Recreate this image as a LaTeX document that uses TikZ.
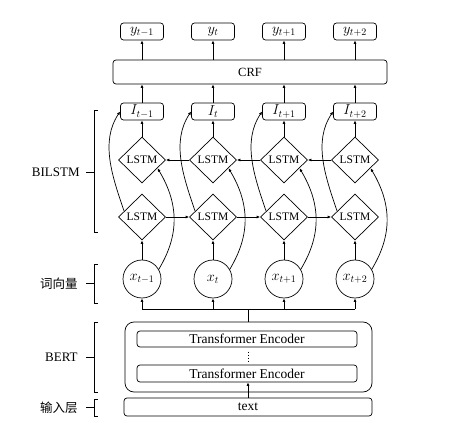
\documentclass[tikz,border=0pt]{standalone}
\usepackage{fontspec}
\setmainfont{Liberation Serif}
\newfontfamily\cjk{Noto Sans CJK SC}
\usetikzlibrary{shapes.geometric,arrows.meta,calc}
\begin{document}
\begin{tikzpicture}[x=1pt,y=-1pt, line width=0.7pt,
 >={Latex[length=3.5pt,width=3pt]},
 rbox/.style={draw, rounded corners=3pt, minimum width=43pt, minimum height=17pt, inner sep=0pt, font=\fontsize{14.4}{15}\selectfont},
 lstm/.style={draw, diamond, minimum width=47pt, minimum height=46pt, inner sep=0pt, font=\fontsize{11.5}{12}\selectfont},
 xc/.style={draw, circle, minimum size=38pt, inner sep=0pt, font=\fontsize{14.4}{15}\selectfont},
 wide/.style={draw, inner sep=0pt, font=\fontsize{13.5}{14}\selectfont},
 lbl/.style={anchor=east, inner sep=0pt, font=\fontsize{13}{13}\selectfont},
 brk/.style={line width=0.7pt}
]
\useasboundingbox (0,0) rectangle (449,443);

\foreach \i/\x/\s in {1/142/{t-1},2/213/t,3/284/{t+1},4/355/{t+2}}{
  \node[rbox] (y\i) at (\x,31.5) {$y_{\s}$};
  \node[rbox] (i\i) at (\x,111.5) {$I_{\s}$};
  \node[lstm] (t\i) at (\x,160) {LSTM};
  \node[lstm] (b\i) at (\x,217) {LSTM};
  \node[xc] (x\i) at (\x,279) {$x_{\s}$};
}

\node[draw, rounded corners=3pt, minimum width=274pt, minimum height=24pt, inner sep=0pt, font=\fontsize{12.5}{13}\selectfont] (crf) at (250,72) {CRF};

\node[draw, rounded corners=9pt, minimum width=247pt, minimum height=70pt] (bert) at (248.5,357) {};
\node[wide, rounded corners=3pt, minimum width=220pt, minimum height=16pt] (te1) at (247,339) {Transformer Encoder};
\node[wide, rounded corners=3pt, minimum width=220pt, minimum height=17pt] (te2) at (247,373.5) {Transformer Encoder};
\coordinate (d1) at (248,351.5);
\coordinate (d2) at (248,361);
\draw[line width=0.6pt, dash pattern=on 0.6pt off 2.4pt] (d1) -- (d2);
\node[wide, rounded corners=3pt, minimum width=248pt, minimum height=18pt] (txt) at (248,407) {text};

% arrows vertical
\draw[->] (txt.north) -- (te2.south -| txt.north);
\coordinate (bus) at (248.5,309);
\draw (bert.north) -- (bus);
\draw (x1.south |- bus) -- (x4.south |- bus);
\foreach \i in {1,...,4}{
  \draw[->] (x\i.south |- bus) -- (x\i.south);
  \draw[->] (x\i.north) -- (b\i.south);
  \draw[->] (t\i.north) -- (i\i.south);
  \draw[->] (i\i.north) -- (crf.south -| i\i.north);
  \draw[->] (crf.north -| y\i.south) -- (y\i.south);
  \draw[->] ($(b\i.west)!0.25!(b\i.north)$) .. controls +(-12,-35) and +(-20,30) .. (i\i.west);
  \draw[->] (x\i.30) .. controls +(18,-30) and +(24,40) .. ($(t\i.east)!0.35!(t\i.south)$);
}
\foreach \a/\b in {1/2,2/3,3/4}{
  \draw[->] (b\a.east) -- (b\b.west);
  \draw[->] (t\b.west) -- (t\a.east);
}

% brackets
\draw[brk] (98,110) -- (94,110) -- (94,232) -- (98,232) (94,172) -- (86,172);
\node[lbl] (lb1) at (80,172) {BILSTM};
\draw[brk] (98,264) -- (94,264) -- (94,303) -- (98,303) (94,283.5) -- (86,283.5);
\node[lbl, font=\cjk\fontsize{12.5}{13}\selectfont] (lb2) at (78,283.5) {词向量};
\draw[brk] (98,322) -- (94,322) -- (94,392) -- (98,392) (94,357) -- (86,357);
\node[lbl] (lb3) at (78,357) {BERT};
\draw[brk] (98,399) -- (94,399) -- (94,416) -- (98,416) (94,407.5) -- (86,407.5);
\node[lbl, font=\cjk\fontsize{12.5}{13}\selectfont] (lb4) at (78,407.5) {输入层};
\end{tikzpicture}
\end{document}
